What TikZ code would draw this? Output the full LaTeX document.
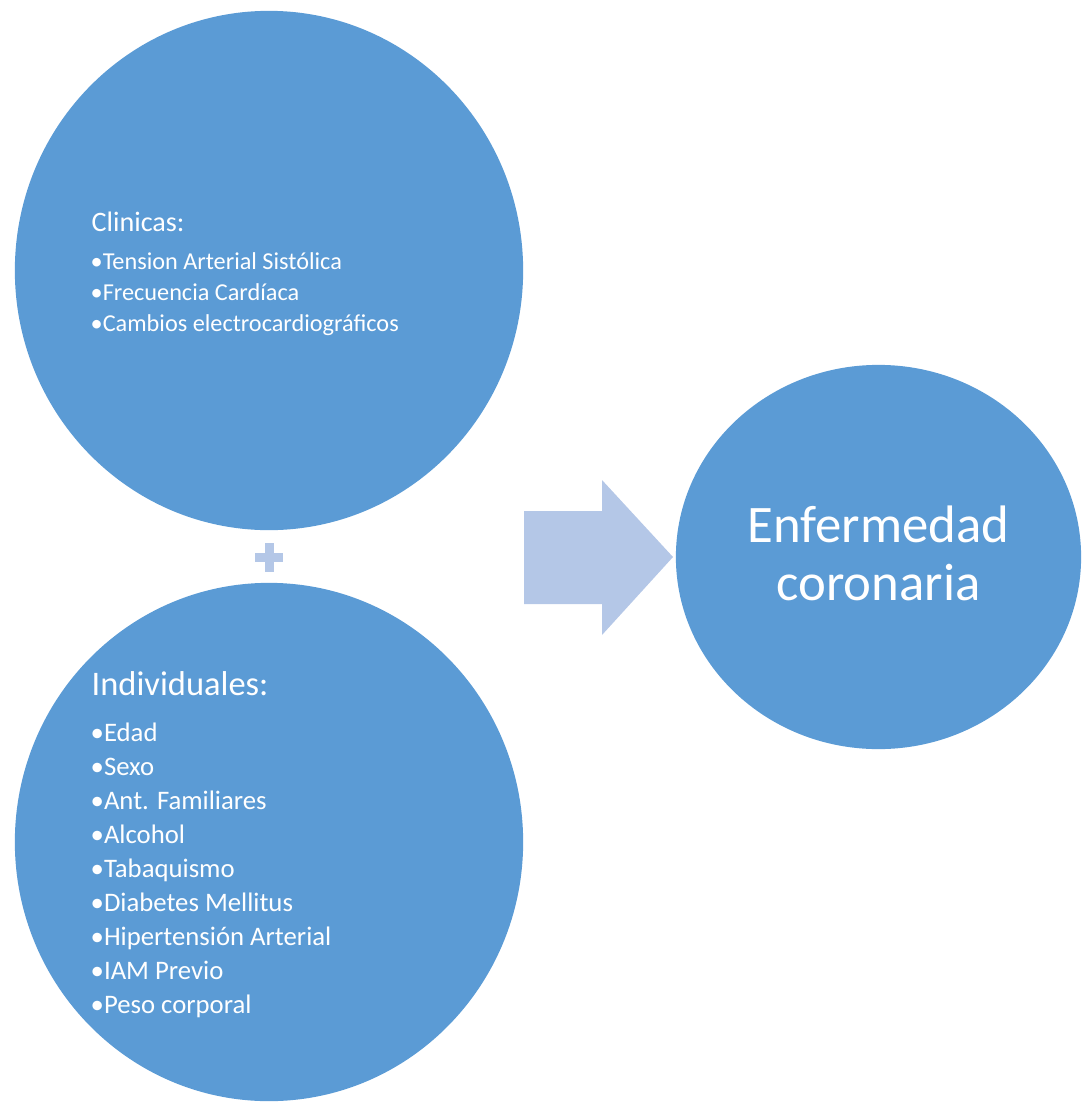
\documentclass[tikz,border=0pt]{standalone}
\usepackage{fontspec}
\setmainfont{Carlito}
\usetikzlibrary{shapes.geometric}
\definecolor{c5b9bd5}{RGB}{91,155,213}
\definecolor{cb4c7e7}{RGB}{180,199,231}

\begin{document}
\begin{tikzpicture}[x=0.01cm,y=-0.01cm,
  bubble/.style={ellipse,fill=c5b9bd5,draw=none,inner sep=0pt},
  txt/.style={text=white,inner sep=0pt,anchor=base west},
  fhead/.style={font=\fontsize{8}{9}\selectfont},
  fitem/.style={font=\fontsize{6.9}{8}\selectfont},
  fheadb/.style={font=\fontsize{9.8}{10}\selectfont},
  fitemb/.style={font=\fontsize{7.6}{8}\selectfont}]
\useasboundingbox (0,0) rectangle (1082,1103);
\node [bubble,minimum width=5.08cm,minimum height=5.19cm] (clin) at (269,270.5) {};
\node [bubble,minimum width=5.08cm,minimum height=5.18cm] (indiv) at (269,842) {};
\node [bubble,minimum width=4.05cm,minimum height=3.84cm] (enf) at (878.5,557) {};
\fill [cb4c7e7] (255,553) rectangle (283,562);
\fill [cb4c7e7] (265,543) rectangle (274,572);
\fill [cb4c7e7] (524,511) -- (602,511) -- (602,480) -- (673,557) -- (602,635) -- (602,604) -- (524,604) -- cycle;
\node [txt,fhead] (clintit) at (91,231) {Clinicas:};
\node [txt,fitem] (c1) at (90,269) {•Tension Arterial Sistólica};
\node [txt,fitem] (c2) at (90,300) {•Frecuencia Cardíaca};
\node [txt,fitem] (c3) at (90,331) {•Cambios electrocardiográficos};
\node [txt,fheadb] (inditit) at (91,695) {Individuales:};
\node [txt,fitemb] (i1) at (90,741) {•Edad};
\node [txt,fitemb] (i2) at (90,775) {•Sexo};
\node [txt,fitemb] (i3) at (90,809) {•Ant. Familiares};
\node [txt,fitemb] (i4) at (90,843) {•Alcohol};
\node [txt,fitemb] (i5) at (90,877) {•Tabaquismo};
\node [txt,fitemb] (i6) at (90,911) {•Diabetes Mellitus};
\node [txt,fitemb] (i7) at (90,945) {•Hipertensión Arterial};
\node [txt,fitemb] (i8) at (90,979) {•IAM Previo};
\node [txt,fitemb] (i9) at (90,1013) {•Peso corporal};
\node [txt,anchor=base,font=\fontsize{15}{16}\selectfont] (enf1) at (878.5,542) {Enfermedad};
\node [txt,anchor=base,font=\fontsize{15}{16}\selectfont] (enf2) at (878.5,600) {coronaria};
\end{tikzpicture}
\end{document}
